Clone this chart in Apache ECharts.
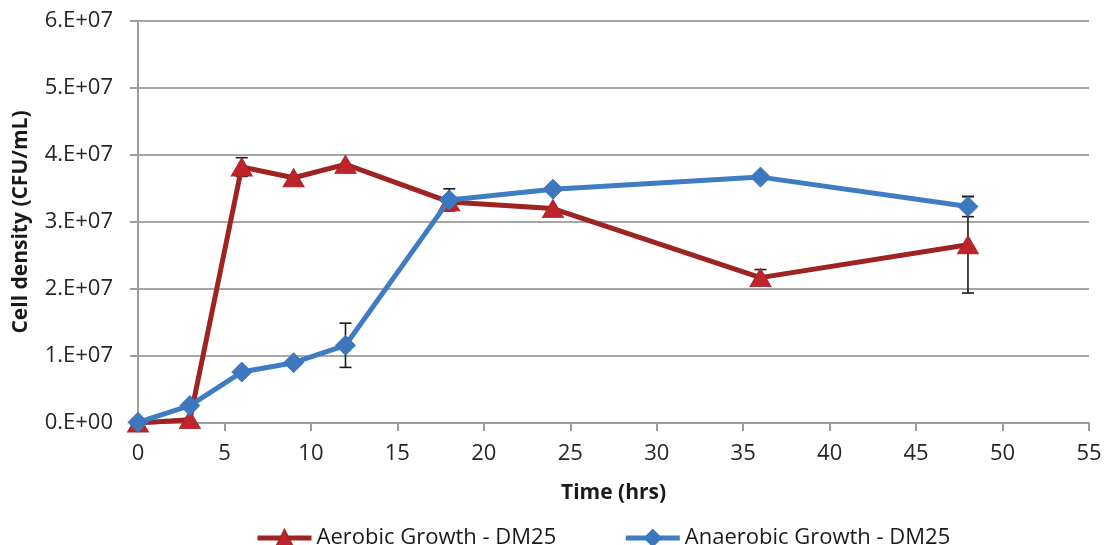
<!DOCTYPE html>
<html>
<head>
<meta charset="utf-8">
<script src="https://cdn.jsdelivr.net/npm/echarts@6/dist/echarts.min.js"></script>
<style>
  html, body { margin: 0; padding: 0; background: #fff; }
  #chart { width: 1111px; height: 545px; }
</style>
</head>
<body>
<div id="chart"></div>
<script>
// Sampling times (hrs)
const hours = [0, 3, 6, 9, 12, 18, 24, 36, 48];
// Mean cell densities (CFU/mL)
const aerobic = [0, 5e5, 3.82e7, 3.66e7, 3.86e7, 3.30e7, 3.20e7, 2.17e7, 2.66e7];
const anaerobic = [1e5, 2.6e6, 7.6e6, 9.0e6, 1.16e7, 3.33e7, 3.49e7, 3.67e7, 3.23e7];
// Standard deviations (CFU/mL)
const aerobicErr = [0, 0, 1.4e6, 0, 0, 0, 0, 1.2e6, 7.2e6];
const anaerobicErr = [0, 0, 0, 0, 3.3e6, 1.65e6, 0, 0, 1.5e6];
// Y tick labels
const yTickLabels = ['0.E+00', '1.E+07', '2.E+07', '3.E+07', '4.E+07', '5.E+07', '6.E+07'];

const FONT = '"Open Sans", Lato, sans-serif';

function pairs(xs, ys) { return xs.map((x, i) => [x, ys[i]]); }
function errData(xs, ys, es) { return xs.map((x, i) => [x, ys[i], es[i]]); }

// Vertical error bar with caps, drawn through the axis scales
function errorBarRender(params, api) {
  const x = api.value(0), y = api.value(1), e = api.value(2);
  if (!e) return null;
  const top = api.coord([x, y + e]);
  const bot = api.coord([x, y - e]);
  const cap = 6;
  const style = { stroke: '#1a1a1a', lineWidth: 1.6 };
  return {
    type: 'group',
    children: [
      { type: 'line', shape: { x1: top[0], y1: top[1], x2: bot[0], y2: bot[1] }, style },
      { type: 'line', shape: { x1: top[0] - cap, y1: top[1], x2: top[0] + cap, y2: top[1] }, style },
      { type: 'line', shape: { x1: bot[0] - cap, y1: bot[1], x2: bot[0] + cap, y2: bot[1] }, style }
    ]
  };
}

const chart = echarts.init(document.getElementById('chart'), null, { renderer: 'canvas' });
chart.setOption({
  animation: false,
  backgroundColor: '#fff',
  textStyle: { fontFamily: FONT },
  grid: { left: 138, right: 22, top: 21, bottom: 122, containLabel: false },
  legend: {
    top: 522,
    left: 250,
    itemWidth: 54,
    itemHeight: 20,
    itemGap: 67,
    lineStyle: { width: 5 },
    textStyle: { fontFamily: FONT, fontSize: 22, color: '#1a1a1a' },
    data: ['Aerobic Growth - DM25', 'Anaerobic Growth - DM25']
  },
  xAxis: {
    type: 'value',
    min: 0, max: 55, interval: 5,
    name: 'Time (hrs)',
    nameLocation: 'middle',
    nameGap: 60,
    nameTextStyle: { fontFamily: FONT, fontSize: 21, fontWeight: 'bold', color: '#1a1a1a' },
    axisLine: { show: true, lineStyle: { color: '#9c9c9c', width: 2 } },
    axisTick: { show: true, inside: false, length: 8, lineStyle: { color: '#9c9c9c', width: 2 } },
    axisLabel: { fontFamily: FONT, fontSize: 22, color: '#262626', margin: 20 },
    splitLine: { show: false }
  },
  yAxis: {
    type: 'value',
    min: 0, max: 6e7, interval: 1e7,
    name: 'Cell density (CFU/mL)',
    nameLocation: 'middle',
    nameRotate: 90,
    nameGap: 106,
    nameTextStyle: { fontFamily: FONT, fontSize: 21, fontWeight: 'bold', color: '#1a1a1a' },
    axisLine: { show: true, lineStyle: { color: '#9c9c9c', width: 2 } },
    axisTick: { show: true, inside: false, length: 8, lineStyle: { color: '#9c9c9c', width: 2 } },
    axisLabel: {
      fontFamily: FONT, fontSize: 22, color: '#262626', margin: 25,
      formatter: (v) => yTickLabels[Math.round(v / 1e7)]
    },
    splitLine: { show: true, lineStyle: { color: '#a6a6a6', width: 2 } }
  },
  series: [
    {
      name: 'aerobicErr', type: 'custom', z: 1,
      renderItem: errorBarRender,
      encode: { x: 0, y: 1 },
      data: errData(hours, aerobic, aerobicErr),
      silent: true
    },
    {
      name: 'anaerobicErr', type: 'custom', z: 1,
      renderItem: errorBarRender,
      encode: { x: 0, y: 1 },
      data: errData(hours, anaerobic, anaerobicErr),
      silent: true
    },
    {
      name: 'Aerobic Growth - DM25', type: 'line', z: 3,
      data: pairs(hours, aerobic),
      symbol: 'triangle', symbolSize: [21, 18], showAllSymbol: true,
      lineStyle: { color: '#9e2322', width: 5 },
      itemStyle: { color: '#c0242b', borderColor: '#a8272a', borderWidth: 1 },
      emphasis: { disabled: true }
    },
    {
      name: 'Anaerobic Growth - DM25', type: 'line', z: 4,
      data: pairs(hours, anaerobic),
      symbol: 'diamond', symbolSize: 20, showAllSymbol: true,
      lineStyle: { color: '#3f7cc2', width: 5 },
      itemStyle: { color: '#3d78be', borderColor: '#3d78be', borderWidth: 1 },
      emphasis: { disabled: true }
    }
  ]
});
</script>
</body>
</html>
